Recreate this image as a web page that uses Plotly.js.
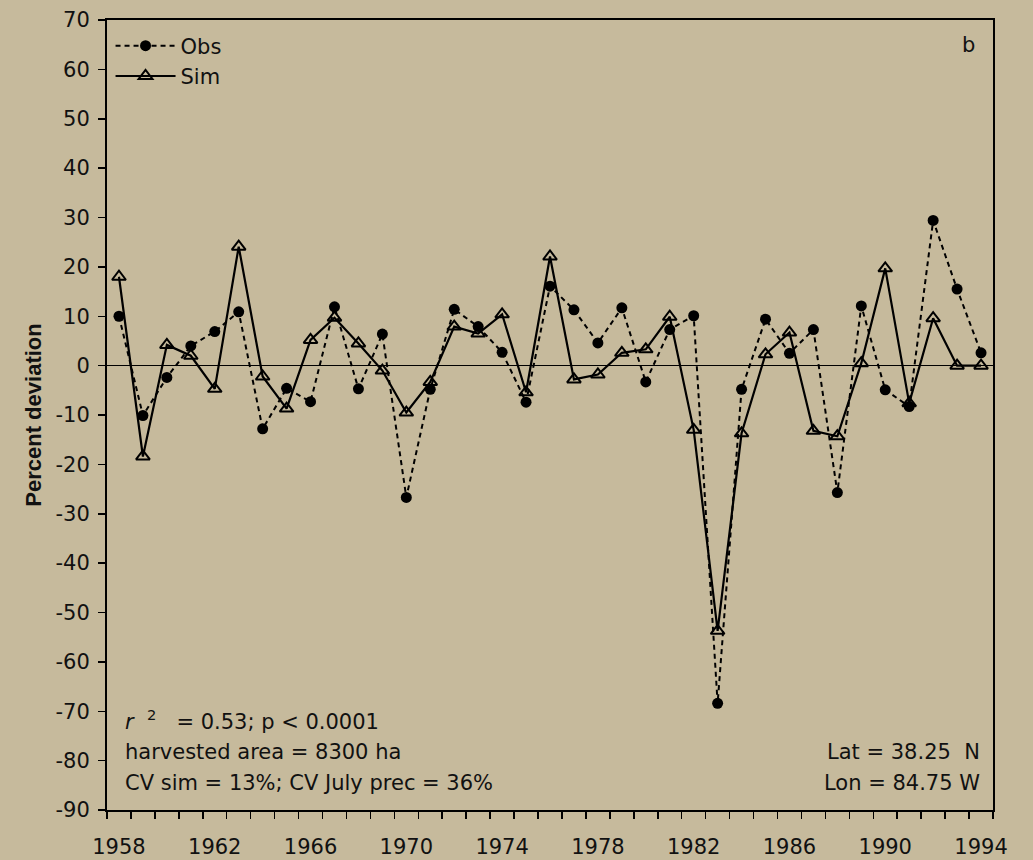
<!DOCTYPE html>
<html>
<head>
<meta charset="utf-8">
<script src="https://cdn.plot.ly/plotly-3.0.1.min.js"></script>
<style>
  html, body { margin: 0; padding: 0; background: #c6ba9c; }
  #chart { width: 1033px; height: 860px; }
</style>
</head>
<body>
<div id="chart"></div>
<script>
const years = [1958,1959,1960,1961,1962,1963,1964,1965,1966,1967,1968,1969,1970,1971,1972,1973,1974,1975,1976,
               1977,1978,1979,1980,1981,1982,1983,1984,1985,1986,1987,1988,1989,1990,1991,1992,1993,1994];
const obs = [10.0,-10.1,-2.4,4.0,6.9,10.9,-12.8,-4.6,-7.3,11.9,-4.7,6.4,-26.7,-4.8,11.4,7.9,2.7,-7.4,16.1,
             11.3,4.6,11.7,-3.3,7.3,10.1,-68.4,-4.8,9.4,2.5,7.3,-25.7,12.1,-4.9,-8.3,29.4,15.5,2.6];
const sim = [18.0,-18.4,4.2,2.0,-4.7,24.1,-2.2,-8.7,5.2,9.7,4.5,-1.0,-9.5,-3.3,7.9,6.5,10.4,-5.4,22.1,
             -2.8,-1.8,2.6,3.3,9.9,-13.0,-53.7,-13.7,2.3,6.7,-13.2,-14.3,0.5,19.7,-7.6,9.6,0.0,0.0];
const minorTicks = [];
for (let i = 0; i <= years.length; i++) minorTicks.push(years[0] - 0.5 + i);
const labelYears = [1958,1962,1966,1970,1974,1978,1982,1986,1990,1994];
const yTicks = [-90,-80,-70,-60,-50,-40,-30,-20,-10,0,10,20,30,40,50,60,70];
const statLines = ['<i>r</i>  <sup>2</sup>   = 0.53; p &lt; 0.0001', 'harvested area = 8300 ha', 'CV sim = 13%; CV July prec = 36%'];
const locLines = ['Lat = 38.25  N', 'Lon = 84.75 W'];

const FONT = '"DejaVu Sans", "Open Sans", sans-serif';
const FS = 21;

const traces = [
  {
    x: years, y: obs, name: 'Obs', type: 'scatter', mode: 'lines+markers',
    line: {color: '#000', width: 2, dash: '5px,4px'},
    marker: {symbol: 'circle', size: 11, color: '#000'}
  },
  {
    x: years, y: sim, name: 'Sim', type: 'scatter', mode: 'lines+markers',
    line: {color: '#000', width: 2.2},
    marker: {symbol: 'triangle-up-open', size: 12, color: '#000', line: {width: 2, color: '#000'}}
  },
  {
    x: labelYears, y: labelYears.map(() => 0), xaxis: 'x2', yaxis: 'y',
    type: 'scatter', mode: 'markers', marker: {size: 1, opacity: 0}, showlegend: false, hoverinfo: 'skip'
  }
];

const statY = [0.1139, 0.0734, 0.0342];
const locY = [0.0734, 0.0342];
const annotations = [
  {xref: 'paper', yref: 'paper', x: 0.982, y: 0.968, xanchor: 'right', yanchor: 'middle',
   text: 'b', showarrow: false, font: {family: FONT, size: FS, color: '#111'}}
];
statLines.forEach((t, i) => annotations.push({
  xref: 'paper', yref: 'paper', x: 0.018, y: statY[i], xanchor: 'left', yanchor: 'middle',
  text: t, showarrow: false, font: {family: FONT, size: FS, color: '#111'}
}));
locLines.forEach((t, i) => annotations.push({
  xref: 'paper', yref: 'paper', x: 0.988, y: locY[i], xanchor: 'right', yanchor: 'middle',
  text: t, showarrow: false, font: {family: FONT, size: FS, color: '#111'}
}));

const layout = {
  width: 1033, height: 860,
  paper_bgcolor: '#c6ba9c', plot_bgcolor: '#c6ba9c',
  margin: {l: 107, r: 40, t: 20, b: 50},
  font: {family: FONT, color: '#111', size: FS},
  showlegend: true,
  legend: {
    x: 0.004, y: 0.993, xanchor: 'left', yanchor: 'top',
    bgcolor: 'rgba(0,0,0,0)', font: {family: FONT, size: FS, color: '#111'},
    tracegroupgap: 0, itemwidth: 60
  },
  xaxis: {
    range: [1957.5, 1994.5], tickmode: 'array', tickvals: minorTicks,
    showticklabels: false, ticks: 'outside', ticklen: 7, tickwidth: 1.5, tickcolor: '#000',
    showline: true, linecolor: '#000', linewidth: 2, mirror: true,
    showgrid: false, zeroline: false, fixedrange: true
  },
  xaxis2: {
    overlaying: 'x', side: 'bottom', anchor: 'y',
    range: [1957.5, 1994.5], tickmode: 'array', tickvals: labelYears, ticktext: labelYears.map(String),
    ticks: '', showline: false, showgrid: false, zeroline: false,
    tickfont: {family: FONT, size: FS, color: '#111'}, ticklabelstandoff: 22
  },
  yaxis: {
    range: [-90, 70], tickmode: 'array', tickvals: yTicks, ticktext: yTicks.map(String),
    ticks: 'outside', ticklen: 7, tickwidth: 1.5, tickcolor: '#000',
    showline: true, linecolor: '#000', linewidth: 2, mirror: true,
    showgrid: false, zeroline: true, zerolinecolor: '#000', zerolinewidth: 1.3,
    tickfont: {family: FONT, size: FS, color: '#111'}, ticklabelstandoff: 4,
    title: {text: 'Percent deviation', font: {family: '"Liberation Sans", Arial, sans-serif', size: 22, color: '#111', weight: 'bold'}, standoff: 8}
  },
  annotations: annotations
};

Plotly.newPlot('chart', traces, layout, {staticPlot: true, displayModeBar: false});
</script>
</body>
</html>
